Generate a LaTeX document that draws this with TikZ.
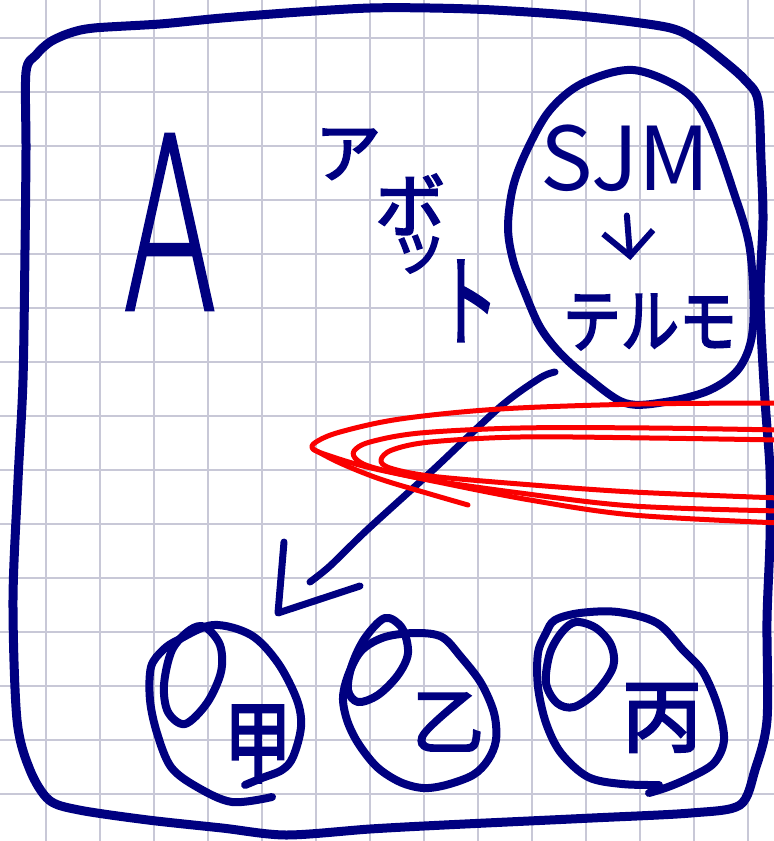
\documentclass[tikz,border=0pt]{standalone}
\usepackage{fontspec}
\usepackage{graphicx}
\setmainfont{Noto Sans CJK JP}
\newfontfamily\thinA{DejaVuSans-ExtraLight.ttf}[FakeBold=1.6]
\newfontfamily\jpr{Noto Sans CJK JP}[FakeBold=3]
\usetikzlibrary{arrows.meta}
\definecolor{ink}{RGB}{0,0,128}
\definecolor{scrib}{RGB}{250,0,0}
\definecolor{gridc}{RGB}{200,200,215}
\newcommand{\jsz}[1]{\jpr\fontsize{#1}{#1}\selectfont}
\begin{document}
\begin{tikzpicture}[x=1pt,y=-1pt,
  pen/.style={draw=ink,line width=8pt,line cap=round,line join=round},
  redpen/.style={draw=scrib,line width=5pt,line cap=round,line join=round},
  gridline/.style={draw=gridc,line width=1.4pt},
  txt/.style={inner sep=0pt,text=ink},
  jp/.style={txt,font=\jsz{#1}}]
\useasboundingbox (0,0) rectangle (774,841);
\fill[white] (0,0) rectangle (774,841);
% grid
\foreach \gx in {46,100,...,748} \draw[gridline] (\gx,0) -- (\gx,841);
\foreach \gy in {38,92,...,794} \draw[gridline] (0,\gy) -- (774,\gy);
% outer frame
\draw[pen,line width=9pt] plot[smooth cycle,tension=0.5] coordinates {
 (26,72) (36,55) (50,42) (70,33) (94,28) (160,24) (222,18) (300,12) (370,8)
 (430,8) (494,10) (580,16) (666,27) (696,40) (725,62) (745,80) (758,100)
 (761,160) (763,220) (760,300) (765,400) (770,470) (770,540) (767,620)
 (767,720) (755,770) (740,805) (691,813) (592,818) (444,825) (370,829)
 (286,835) (222,828) (148,820) (79,810) (49,800) (30,770) (17,720)
 (13,600) (18,480) (23,380) (25,250) (26,150)};
% big A
\node[txt,font=\thinA\fontsize{240}{240}\selectfont,xscale=0.58] (bigA) at (170,222) {A};
% Abbott, written diagonally (one text)
\node[txt,anchor=base west] (abbott) at (315,177) {\jsz{66}ア\kern-6pt\raisebox{-54.6pt}{\jsz{70}ボ}\kern-56pt\raisebox{-91.7pt}{\jsz{58}ッ}\kern-9pt\raisebox{-161pt}{\scalebox{0.6}[1]{\jsz{100}ト}}};
% egg with SJM -> Terumo
\draw[pen] plot[smooth cycle,tension=0.55] coordinates {
 (633,70) (683,90) (708,122) (733,190) (750,250) (753,327) (740,367)
 (710,390) (665,402) (625,403) (587,377) (560,353) (540,327) (525,293)
 (513,260) (508,227) (513,187) (527,150) (550,110) (583,83)};
\node[txt,font=\fontsize{88}{88}\selectfont] (sjm) at (625,158) {SJM};
\node[jp=58,yscale=1.2] (terumo) at (650,322) {テルモ};
\draw[pen,line width=6pt,shorten <=24pt,shorten >=34pt,
  -{Straight Barb[length=24pt,width=50pt]}] (sjm.south) -- ([xshift=-17pt]terumo.north);
% arrow to first circle
\coordinate (arrS) at (555,372);
\coordinate (arrE) at (310,582);
\coordinate (arrH1) at (284,542);
\coordinate (arrTip) at (278,613);
\coordinate (arrH2) at (360,586);
\draw[pen,line width=7pt] plot[smooth,tension=0.5] coordinates {
 (arrS) (540,378) (500,407) (433,470) (367,530) (330,566) (arrE)};
\draw[pen,line width=7pt] (arrH1) -- (arrTip) -- (arrH2);
% circle 1
\draw[pen] plot[smooth,tension=0.55] coordinates {
 (272,797) (232,802) (197,787) (171,767) (157,733) (150,700) (151,667)
 (163,650) (178,640) (213,625) (251,635) (278,663) (297,700) (301,727)
 (293,757) (282,770) (262,778) (245,785)};
\draw[pen] plot[smooth cycle,tension=0.55] coordinates {
 (205,627) (220,645) (221,672) (207,703) (185,724) (168,712) (164,685)
 (172,650) (190,630)};
\node[jp=90,xscale=0.75] (kou) at (258,744) {甲};
% circle 2
\draw[pen] plot[smooth cycle,tension=0.55] coordinates {
 (416,633) (442,637) (461,657) (481,683) (494,713) (496,740) (488,760)
 (473,775) (446,785) (423,788) (400,782) (377,767) (358,743) (347,720)
 (343,697) (349,673) (362,650) (385,637)};
\draw[pen] plot[smooth cycle,tension=0.55] coordinates {
 (385,618) (402,628) (408,653) (398,675) (378,695) (358,702) (348,690)
 (352,665) (365,638)};
\node[jp=72] (otsu) at (448,722) {乙};
% circle 3
\draw[pen] plot[smooth,tension=0.55] coordinates {
 (659,785) (622,784) (588,777) (561,753) (546,723) (538,687) (538,653)
 (546,633) (555,620) (580,613) (618,612) (657,623) (683,650) (703,672)
 (718,707) (724,740) (714,763) (691,777) (668,787) (649,793)};
\draw[pen] plot[smooth cycle,tension=0.55] coordinates {
 (576,622) (596,628) (611,645) (613,667) (596,692) (574,707) (557,703)
 (546,683) (550,653) (562,632)};
\node[jp=80] (hei) at (662,718) {丙};
% red scribble
\draw[redpen] plot[smooth,tension=0.55] coordinates {
 (780,403) (640,404) (500,409) (400,419) (340,432) (316,442) (313,449)
 (330,456) (367,467) (433,481) (530,500) (633,515) (780,523)};
\draw[redpen] plot[smooth,tension=0.55] coordinates {
 (780,430) (650,428) (520,428) (420,433) (370,442) (354,451) (357,460)
 (375,468) (430,480) (520,493) (633,506) (780,511)};
\draw[redpen] plot[smooth,tension=0.55] coordinates {
 (780,440) (650,438) (520,437) (430,442) (392,450) (381,460) (390,468)
 (430,476) (520,484) (633,492) (780,498)};
\draw[redpen] plot[smooth,tension=0.55] coordinates {
 (313,449) (340,463) (380,479) (430,494) (468,505)};
\end{tikzpicture}
\end{document}
